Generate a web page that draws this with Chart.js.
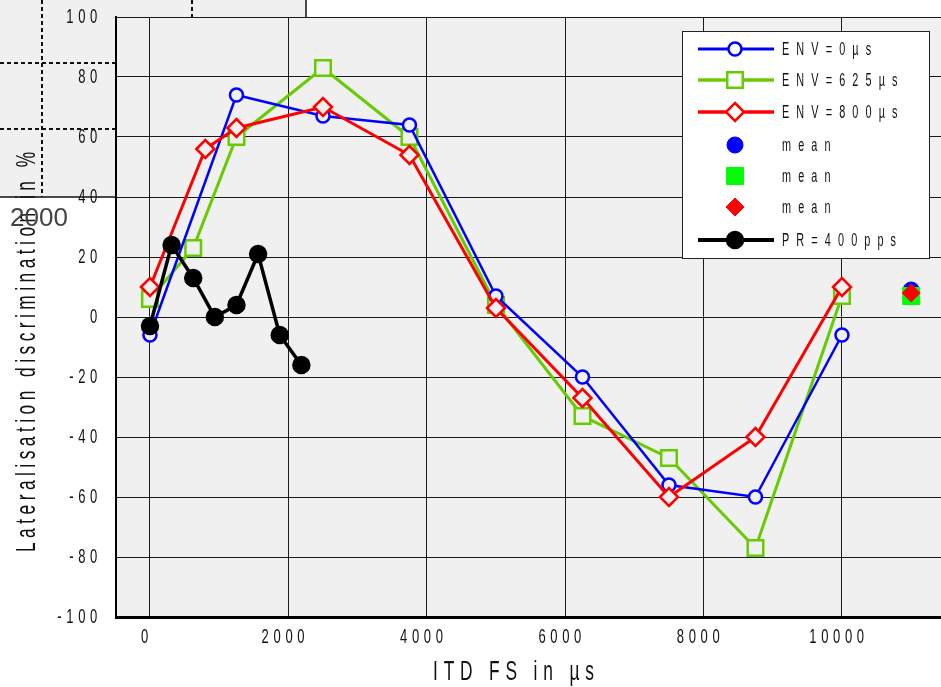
<!DOCTYPE html>
<html>
<head>
<meta charset="utf-8">
<script src="https://cdn.jsdelivr.net/npm/chart.js@4.4.1/dist/chart.umd.min.js"></script>
<style>
  html, body { margin: 0; padding: 0; background: #fff; overflow: hidden; }
  canvas { display: block; }
</style>
</head>
<body>
<canvas id="chart" width="941" height="687"></canvas>
<script>
// ITD (µs) of each measured point
const itdEnv0 = [0, 1250, 2500, 3750, 5000, 6250, 7500, 8750, 10000];
const itdEnv625 = [0, 625, 1250, 2500, 3750, 5000, 6250, 7500, 8750, 10000];
const itdEnv800 = [0, 800, 1250, 2500, 3750, 5000, 6250, 7500, 8750, 10000];
const itdPR400 = [0, 312.5, 625, 937.5, 1250, 1562.5, 1875, 2187.5];
const itdMean = [11000];

// lateralisation discrimination in %
const env0 = [-6, 74, 67, 64, 7, -20, -56, -60, -6];
const env625 = [6, 23, 60, 83, 60, 4, -33, -47, -77, 7];
const env800 = [10, 56, 63, 70, 54, 3, -27, -60, -40, 10];
const pr400 = [-3, 24, 13, 0, 4, 21, -6, -16];
const meanEnv0 = [9];
const meanEnv625 = [7];
const meanEnv800 = [8];

const xTicks = [0, 2000, 4000, 6000, 8000, 10000];
const yTicks = [-100, -80, -60, -40, -20, 0, 20, 40, 60, 80, 100];

const BLUE = '#0000ff';
const GREEN = '#66cc00';
const RED = '#ff0000';
const PLOT_BG = '#f0f0f0';
const SQUEEZE = 0.62; // the original uses a tall, narrow face

const pts = (xs, ys) => xs.map((x, i) => ({ x: x, y: ys[i] }));

// compress every fillText horizontally around its anchor
function squeeze(ctx) {
  if (ctx.plainFill) return;
  ctx.plainFill = ctx.fillText;
  ctx.fillText = function (text, x, y) {
    this.save();
    this.translate(x, y);
    this.scale(SQUEEZE, 1);
    this.plainFill(text, 0, 0);
    this.restore();
  };
}

function spaced(ctx, text, x, y, size, spacing) {
  ctx.save();
  ctx.font = size + 'px "Liberation Sans", Arial, sans-serif';
  ctx.letterSpacing = spacing + 'px';
  ctx.fillText(text, x, y);
  ctx.restore();
}

function marker(ctx, style, r, x, y, fill, stroke, lw) {
  ctx.beginPath();
  if (style === 'circle') {
    ctx.arc(x, y, r, 0, Math.PI * 2);
  } else if (style === 'rect') {
    const s = r * Math.SQRT1_2;
    ctx.rect(x - s, y - s, 2 * s, 2 * s);
  } else {
    ctx.moveTo(x, y - r); ctx.lineTo(x + r, y); ctx.lineTo(x, y + r); ctx.lineTo(x - r, y);
    ctx.closePath();
  }
  ctx.fillStyle = fill;
  ctx.fill();
  if (lw > 0) {
    ctx.lineWidth = lw;
    ctx.strokeStyle = stroke;
    ctx.stroke();
  }
}

const backdrop = {
  id: 'backdrop',
  beforeDraw(chart) {
    const ctx = chart.ctx;
    const a = chart.chartArea;
    squeeze(ctx);
    ctx.letterSpacing = '7.5px';
    ctx.save();
    ctx.fillStyle = '#fff';
    ctx.fillRect(0, 0, chart.width, chart.height);
    ctx.fillStyle = PLOT_BG;
    ctx.fillRect(a.left, a.top, a.right - a.left, a.bottom - a.top);
    // leftover patch of another figure in the top-left corner
    ctx.fillRect(0, 0, a.left, 197);
    ctx.fillRect(a.left, 0, 190, a.top);
    ctx.strokeStyle = '#111';
    ctx.lineWidth = 2;
    ctx.setLineDash([4, 3]);
    ctx.beginPath();
    ctx.moveTo(42, 0); ctx.lineTo(42, 197);
    ctx.moveTo(0, 63); ctx.lineTo(a.left, 63);
    ctx.moveTo(0, 129); ctx.lineTo(a.left, 129);
    ctx.moveTo(192, 0); ctx.lineTo(192, a.top);
    ctx.stroke();
    ctx.setLineDash([]);
    ctx.lineWidth = 1.5;
    ctx.beginPath();
    ctx.moveTo(0, 197); ctx.lineTo(a.left, 197);
    ctx.moveTo(306, 0); ctx.lineTo(306, a.top);
    ctx.stroke();
    ctx.restore();
  },
  afterDraw(chart) {
    const ctx = chart.ctx;
    ctx.save();
    ctx.fillStyle = '#111';
    ctx.textBaseline = 'alphabetic';
    ctx.textAlign = 'left';
    // axis titles
    spaced(ctx, 'ITD FS in µs', 433, 680, 28, 9.4);
    ctx.save();
    ctx.translate(35, 552);
    ctx.rotate(-Math.PI / 2);
    spaced(ctx, 'Lateralisation discrimination in %', 0, 0, 28, 7.2);
    ctx.restore();
    // stray label from the other figure
    ctx.font = '26px "Liberation Sans", Arial, sans-serif';
    ctx.letterSpacing = '0px';
    ctx.fillStyle = '#444';
    ctx.plainFill('2000', 10, 226);

    // legend box
    const L = { x: 682, y: 31, w: 247, h: 227 };
    ctx.fillStyle = '#fff';
    ctx.fillRect(L.x, L.y, L.w, L.h);
    ctx.strokeStyle = '#222';
    ctx.lineWidth = 1;
    ctx.strokeRect(L.x + 0.5, L.y + 0.5, L.w, L.h);
    const rows = [2, 3, 1, 6, 5, 4, 0];
    const rowY = [49, 80, 112, 145, 176, 207, 240];
    rows.forEach((idx, i) => {
      const ds = chart.data.datasets[idx];
      const y = rowY[i];
      if (ds.showLine !== false) {
        ctx.strokeStyle = ds.borderColor;
        ctx.lineWidth = ds.borderWidth + 0.5;
        ctx.beginPath();
        ctx.moveTo(698, y); ctx.lineTo(774, y);
        ctx.stroke();
      }
      const bg = ds.pointBackgroundColor === PLOT_BG ? '#fff' : ds.pointBackgroundColor;
      marker(ctx, ds.pointStyle, ds.pointRadius, 735, y, bg, ds.borderColor, ds.pointBorderWidth);
      ctx.fillStyle = '#111';
      ctx.textBaseline = 'middle';
      spaced(ctx, ds.label, 782, y + 1, 17.5, 11.5);
    });
    ctx.restore();
  }
};

const lineSet = (label, data, color, style, radius, fill, width) => ({
  label: label,
  data: data,
  showLine: true,
  borderColor: color,
  borderWidth: width,
  pointStyle: style,
  pointRadius: radius,
  pointBorderWidth: 2.5,
  pointBorderColor: color,
  pointBackgroundColor: fill,
  tension: 0
});

const meanSet = (data, color, style, radius) => ({
  label: 'mean',
  data: data,
  showLine: false,
  borderColor: color,
  borderWidth: 1,
  pointStyle: style,
  pointRadius: radius,
  pointBorderWidth: 1,
  pointBorderColor: color,
  pointBackgroundColor: color
});

Chart.defaults.font.family = '"Liberation Sans", Arial, sans-serif';

new Chart(document.getElementById('chart'), {
  type: 'scatter',
  data: {
    // first dataset is drawn on top
    datasets: [
      lineSet('PR=400pps', pts(itdPR400, pr400), '#000', 'circle', 8, '#000', 3.5),
      lineSet('ENV=800µs', pts(itdEnv800, env800), RED, 'rectRot', 9, PLOT_BG, 3),
      lineSet('ENV=0µs', pts(itdEnv0, env0), BLUE, 'circle', 6.5, PLOT_BG, 2.5),
      lineSet('ENV=625µs', pts(itdEnv625, env625), GREEN, 'rect', 11, PLOT_BG, 3),
      meanSet(pts(itdMean, meanEnv800), RED, 'rectRot', 9),
      meanSet(pts(itdMean, meanEnv625), '#00ff00', 'rect', 12),
      meanSet(pts(itdMean, meanEnv0), BLUE, 'circle', 8)
    ]
  },
  options: {
    responsive: false,
    animation: false,
    layout: { autoPadding: false, padding: { top: 17, left: 0, right: 0, bottom: 0 } },
    plugins: {
      legend: { display: false },
      tooltip: { enabled: false }
    },
    scales: {
      x: {
        type: 'linear',
        min: -491,
        max: 11431,
        afterBuildTicks: (scale) => { scale.ticks = xTicks.map((v) => ({ value: v })); },
        afterFit: (scale) => {
          scale.height = 70;
          scale.paddingLeft = 0;
          scale.paddingRight = 0;
        },
        grid: { color: '#1a1a1a', lineWidth: 1, drawTicks: false },
        border: { color: '#000', width: 3 },
        ticks: {
          color: '#111',
          padding: 8,
          labelOffset: -3,
          maxRotation: 0,
          font: { size: 21 },
          callback: (v) => String(v)
        }
      },
      y: {
        type: 'linear',
        min: -100,
        max: 100,
        afterBuildTicks: (scale) => { scale.ticks = yTicks.map((v) => ({ value: v })); },
        afterFit: (scale) => {
          scale.width = 116;
          scale.paddingTop = 0;
          scale.paddingBottom = 0;
        },
        grid: { color: '#1a1a1a', lineWidth: 1, drawTicks: false },
        border: { color: '#000', width: 2 },
        ticks: {
          color: '#111',
          padding: 14,
          font: { size: 21 },
          callback: (v) => String(v)
        }
      }
    }
  },
  plugins: [backdrop]
});
</script>
</body>
</html>
